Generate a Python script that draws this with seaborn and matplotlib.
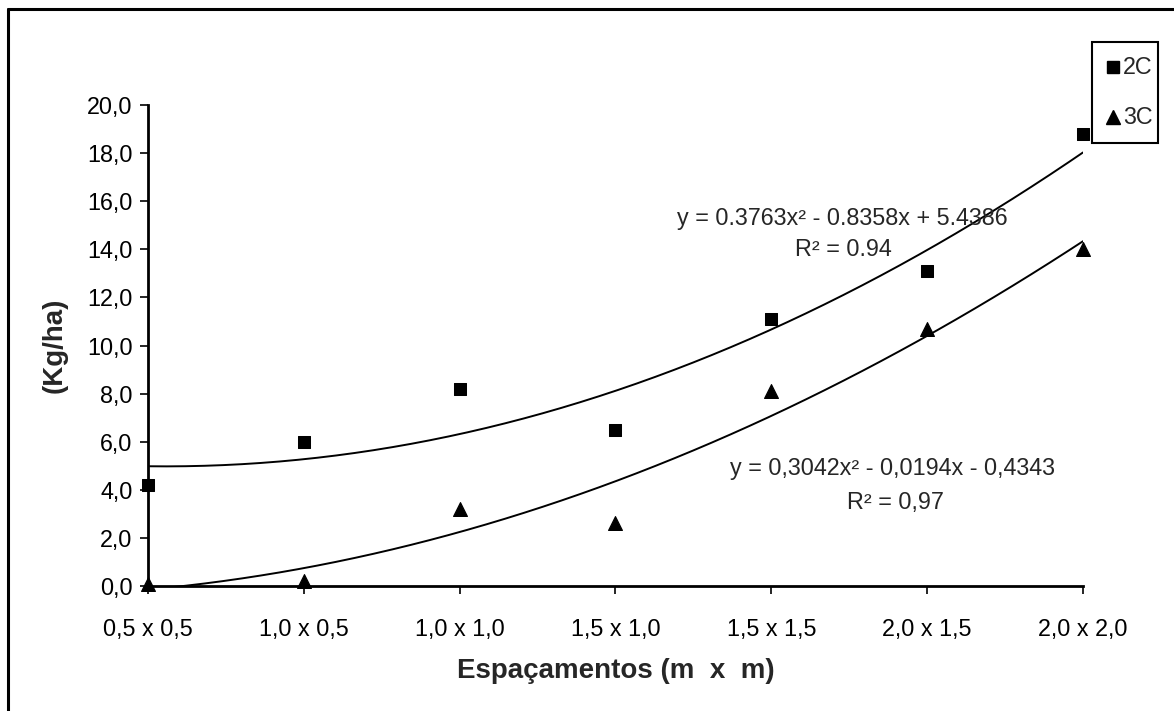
import numpy as np
import pandas as pd
import matplotlib
matplotlib.use("Agg")
import matplotlib.pyplot as plt
from matplotlib.lines import Line2D
from matplotlib.patches import Rectangle
import seaborn as sns

# data
categories = ["0,5 x 0,5", "1,0 x 0,5", "1,0 x 1,0", "1,5 x 1,0",
              "1,5 x 1,5", "2,0 x 1,5", "2,0 x 2,0"]
yield_2c = [4.2, 6.0, 8.2, 6.5, 11.1, 13.1, 18.8]
yield_3c = [0.1, 0.2, 3.2, 2.6, 8.1, 10.7, 14.0]
# trendline coefficients printed on the chart (a, b, c)
coef_2c = [0.3763, -0.8358, 5.4386]
coef_3c = [0.3042, -0.0194, -0.4343]
y_ticks = [0, 2, 4, 6, 8, 10, 12, 14, 16, 18, 20]

sns.set_theme(style="white")
plt.rcParams["font.family"] = ["Liberation Sans", "DejaVu Sans"]

W, H = 1174, 711
pos = np.arange(1, len(categories) + 1)
df2 = pd.DataFrame({"pos": pos, "valor": yield_2c})
df3 = pd.DataFrame({"pos": pos, "valor": yield_3c})

fig = plt.figure(figsize=(W / 100, H / 100), dpi=100)
ax = fig.add_axes([148 / W, 1 - 586 / H, (1083 - 148) / W, (586 - 105) / H])

# trendlines
xs = np.linspace(1, 7, 200)
for coef in (coef_2c, coef_3c):
    sns.lineplot(x=xs, y=np.polyval(coef, xs), ax=ax, color="black", lw=1.4)

sns.scatterplot(data=df2, x="pos", y="valor", marker="s", color="black", s=85,
                edgecolor="black", ax=ax, clip_on=False, zorder=5)
sns.scatterplot(data=df3, x="pos", y="valor", marker="^", color="black", s=100,
                edgecolor="black", ax=ax, clip_on=False, zorder=5)

ax.set_xlim(1, 7)
ax.set_ylim(0, 20)
ax.set_xticks(pos)
ax.set_xticklabels(categories)
ax.set_yticks(y_ticks)
ax.set_yticklabels([f"{v:.1f}".replace(".", ",") for v in y_ticks])
ax.tick_params(axis="both", labelsize=16.8, colors="black", length=6, width=1.2,
               direction="out", left=True, bottom=True)
ax.tick_params(axis="x", pad=17)
ax.tick_params(axis="y", pad=5)
for side in ("top", "right"):
    ax.spines[side].set_visible(False)
for side in ("left", "bottom"):
    ax.spines[side].set_color("black")
    ax.spines[side].set_linewidth(2)

ax.set_xlabel("Espaçamentos (m  x  m)", fontsize=20, fontweight="bold", labelpad=12)
ax.set_ylabel("(Kg/ha)", fontsize=20, fontweight="bold", labelpad=14)

# equation labels
fig.text(842 / W, 1 - 219 / H, "y = 0.3763x² - 0.8358x + 5.4386",
         ha="center", va="center", fontsize=16.8)
fig.text(843 / W, 1 - 250 / H, "R² = 0.94", ha="center", va="center", fontsize=16.8)
fig.text(892 / W, 1 - 468 / H, "y = 0,3042x² - 0,0194x - 0,4343",
         ha="center", va="center", fontsize=16.8)
fig.text(895 / W, 1 - 502 / H, "R² = 0,97", ha="center", va="center", fontsize=16.8)

# legend box, drawn by hand like the Excel one
fig.add_artist(Rectangle((1092 / W, 1 - 143 / H), (1158 - 1092) / W, (143 - 42) / H,
                         transform=fig.transFigure, fill=False, edgecolor="black", lw=1.5))
for label, mk, ms, ypx in (("2C", "s", 9, 67), ("3C", "^", 10, 117)):
    fig.add_artist(Line2D([1113 / W], [1 - ypx / H], marker=mk, markersize=ms,
                          color="black", ls="", transform=fig.transFigure))
    fig.text(1123 / W, 1 - ypx / H, label, ha="left", va="center", fontsize=16.8)

# outer frame (left and top edges only visible)
fig.add_artist(Line2D([8 / W, 8 / W], [0, 1 - 9 / H], color="black", lw=2.2,
                      transform=fig.transFigure))
fig.add_artist(Line2D([8 / W, 1], [1 - 9 / H, 1 - 9 / H], color="black", lw=2.2,
                      transform=fig.transFigure))

fig.savefig("out.png", dpi=100, facecolor="white")
